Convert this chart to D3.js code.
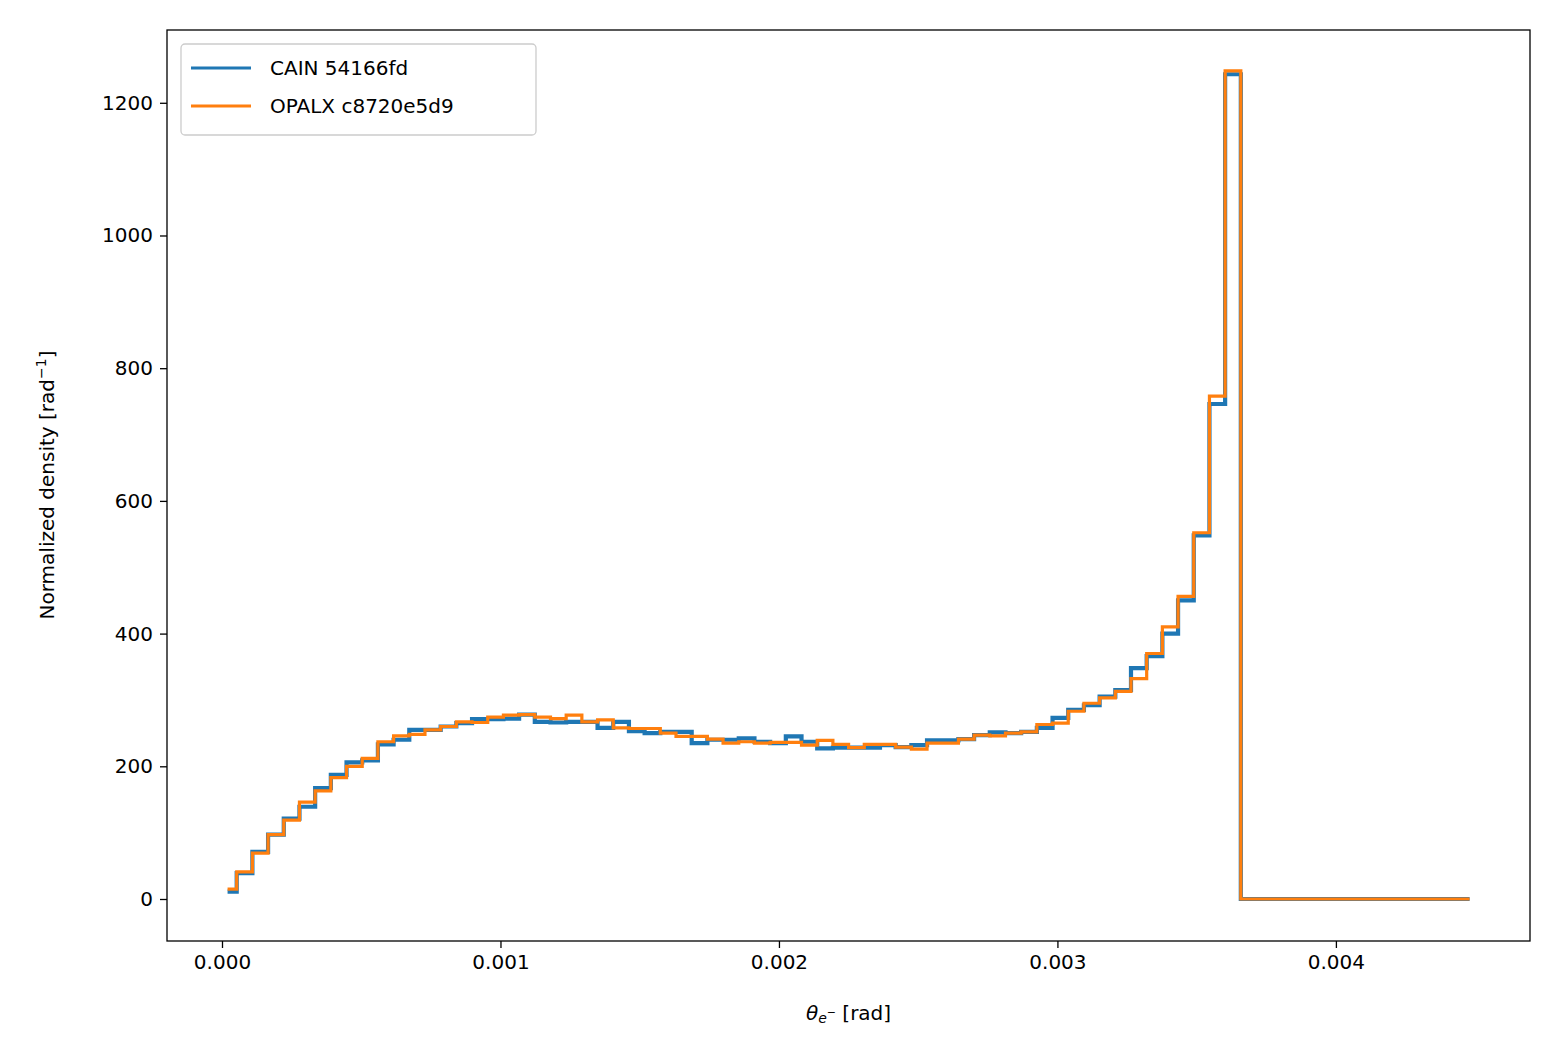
<!DOCTYPE html>
<html>
<head>
<meta charset="utf-8">
<script src="https://cdn.jsdelivr.net/npm/d3@7"></script>
<style>
  body { margin: 0; background: #fff; }
  text { font-family: "DejaVu Sans", sans-serif; }
</style>
</head>
<body>
<svg id="chart" width="1560" height="1060"></svg>
<script>
// bin layout: first and last edges, plus a regular bin width in between
var firstEdge = 0.00002;
var edgeStart = 0.0000528;
var binWidth = 0.00005634;
var lastEdge = 0.00448;

var cainValues = [11, 39, 71, 97, 121, 139, 167, 187, 206, 209, 233, 240, 255, 255, 260, 265, 271, 271, 272, 278,
  267, 266, 267, 267, 258, 267, 253, 250, 252, 252, 235, 240, 240, 242, 237, 235, 245, 237, 227, 228,
  228, 228, 232, 229, 232, 239, 239, 241, 247, 251, 250, 252, 258, 273, 285, 292, 305, 315, 348, 366,
  400, 450, 548, 746, 1243, 0, 0, 0, 0, 0, 0, 0, 0, 0, 0, 0, 0, 0, 0];
var opalxValues = [15, 41, 69, 97, 119, 146, 163, 183, 200, 212, 237, 246, 248, 255, 260, 267, 266, 274, 277, 278,
  274, 272, 277, 267, 270, 258, 257, 257, 250, 245, 245, 241, 235, 237, 235, 236, 236, 232, 239, 233,
  228, 233, 233, 229, 226, 235, 235, 241, 247, 246, 250, 252, 263, 265, 283, 295, 303, 313, 332, 370,
  410, 456, 552, 758, 1248, 0, 0, 0, 0, 0, 0, 0, 0, 0, 0, 0, 0, 0, 0];

var xTicks = [0, 0.001, 0.002, 0.003, 0.004];
var yTicks = [0, 200, 400, 600, 800, 1000, 1200];

var edges = [firstEdge];
for (var k = 0; k < cainValues.length - 1; k++) edges.push(edgeStart + k * binWidth);
edges.push(lastEdge);

var plotLeft = 167, plotRight = 1530, plotTop = 30, plotBottom = 941;
var svg = d3.select("#chart");

var x = d3.scaleLinear().domain([-0.0001975, 0.004697]).range([plotLeft, plotRight]);
var y = d3.scaleLinear().domain([-63.3, 1309.7]).range([plotBottom, plotTop]);

function stepPoints(values) {
  var pts = values.map(function (v, i) { return [edges[i], v]; });
  pts.push([edges[edges.length - 1], values[values.length - 1]]);
  return pts;
}

var line = d3.line()
  .x(function (d) { return x(d[0]); })
  .y(function (d) { return y(d[1]); })
  .curve(d3.curveStepAfter);

svg.append("path").datum(stepPoints(cainValues))
  .attr("d", line).attr("fill", "none")
  .attr("stroke", "#1f77b4").attr("stroke-width", 4.2);
svg.append("path").datum(stepPoints(opalxValues))
  .attr("d", line).attr("fill", "none")
  .attr("stroke", "#ff7f0e").attr("stroke-width", 3.2);

// axes
var xAxis = svg.append("g").attr("transform", "translate(0," + plotBottom + ")")
  .call(d3.axisBottom(x).tickValues(xTicks).tickFormat(d3.format(".3f")).tickSize(7).tickPadding(7));
var yAxis = svg.append("g").attr("transform", "translate(" + plotLeft + ",0)")
  .call(d3.axisLeft(y).tickValues(yTicks).tickFormat(d3.format("d")).tickSize(7).tickPadding(7));
[xAxis, yAxis].forEach(function (a) {
  a.select(".domain").remove();
  a.selectAll("line").attr("stroke", "#000").attr("stroke-width", 1.3);
  a.selectAll("text").attr("font-size", 20).attr("fill", "#000")
    .style("font-family", "'DejaVu Sans', sans-serif");
});

svg.append("rect").attr("x", plotLeft).attr("y", plotTop)
  .attr("width", plotRight - plotLeft).attr("height", plotBottom - plotTop)
  .attr("fill", "none").attr("stroke", "#000").attr("stroke-width", 1.3);

// axis labels
var xl = svg.append("text").attr("x", (plotLeft + plotRight) / 2).attr("y", 1020)
  .attr("text-anchor", "middle").attr("font-size", 20);
xl.append("tspan").attr("font-style", "italic").text("θ");
xl.append("tspan").attr("font-style", "italic").attr("font-size", 14).attr("dy", 3).text("e");
xl.append("tspan").attr("font-size", 11).attr("dy", -7).text("−");
xl.append("tspan").attr("dy", 4).text(" [rad]");

var yl = svg.append("text").attr("transform", "translate(54,485) rotate(-90)")
  .attr("text-anchor", "middle").attr("font-size", 20);
yl.append("tspan").text("Normalized density [rad");
yl.append("tspan").attr("font-size", 14).attr("dy", -8).text("−1");
yl.append("tspan").attr("dy", 8).text("]");

// legend
var legend = svg.append("g");
legend.append("rect").attr("x", 181).attr("y", 44).attr("width", 355).attr("height", 91)
  .attr("rx", 4).attr("fill", "#fff").attr("fill-opacity", 0.8).attr("stroke", "#ccc").attr("stroke-width", 1.3);
[["CAIN 54166fd", "#1f77b4"], ["OPALX c8720e5d9", "#ff7f0e"]].forEach(function (d, i) {
  var ly = 68 + i * 38;
  legend.append("line").attr("x1", 191).attr("x2", 251).attr("y1", ly).attr("y2", ly)
    .attr("stroke", d[1]).attr("stroke-width", 3.2);
  legend.append("text").attr("x", 270).attr("y", ly + 7).attr("font-size", 20).text(d[0]);
});
</script>
</body>
</html>
